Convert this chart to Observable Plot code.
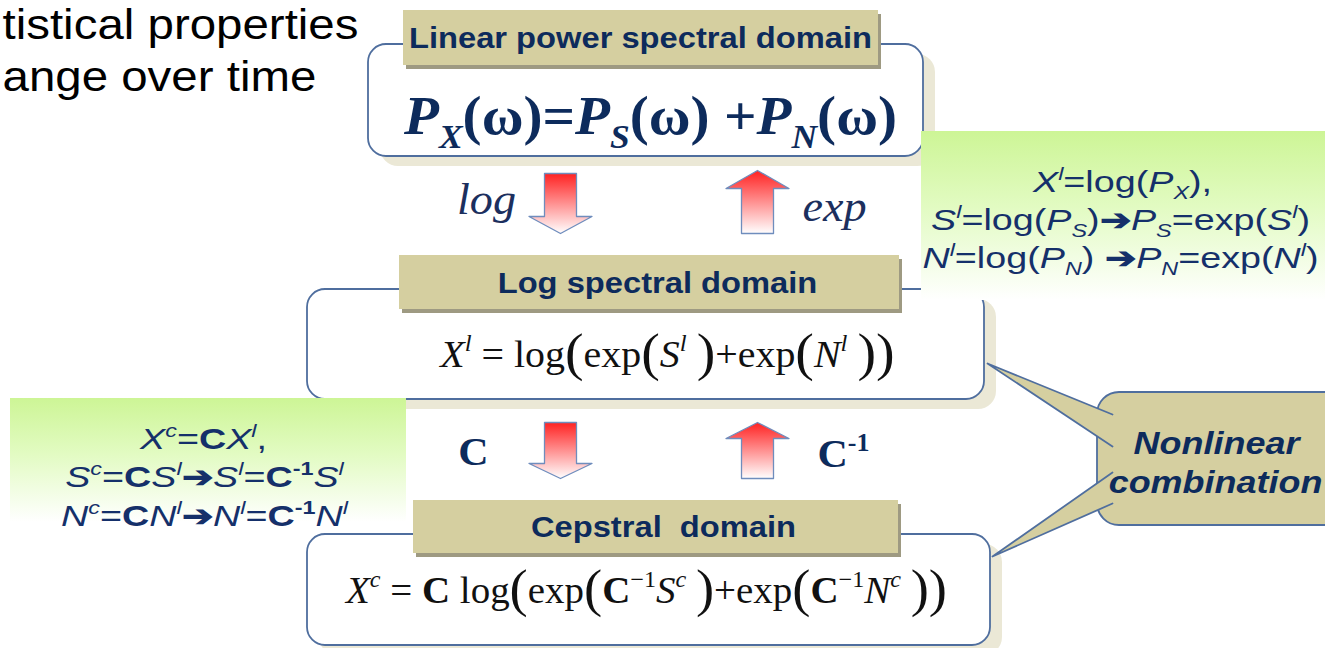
<!DOCTYPE html>
<html>
<head>
<meta charset="utf-8">
<script src="https://cdn.jsdelivr.net/npm/d3@7"></script>
<script src="https://cdn.jsdelivr.net/npm/@observablehq/plot@0.6"></script>
<style>
  html, body { margin: 0; padding: 0; background: #fff; overflow: hidden; }
  #chart svg { display: block; }
</style>
</head>
<body>
<div id="chart"></div>
<script>
// ---------- content (texts) ----------
const headerLines = ["tistical properties", "ange over time"];
const domainTitles = ["Linear power spectral domain", "Log spectral domain", "Cepstral  domain"];
// markup: *..* italic, #..# bold, _{..} subscript, ^{..} superscript, %c enlarged char
const domainFormulas = [
  "*P*_{*X*}(ω)=*P*_{*S*}(ω) +*P*_{*N*}(ω)",
  "*X*^{*l*} = log%(exp%(*S*^{*l*} %)+exp%(*N*^{*l*} %)%)",
  "*X*^{*c*} = #C# log%(exp%(#C#^{−1}*S*^{*c*} %)+exp%(#C#^{−1}*N*^{*c*} %)%)"
];
const transformLabels = ["log", "exp", "C", "C^{-1}"];
const logRelations = [
  "*X*^{*l*}=log(*P*_{*X*}),",
  "*S*^{*l*}=log(*P*_{*S*})#➔#*P*_{*S*}=exp(*S*^{*l*})",
  "*N*^{*l*}=log(*P*_{*N*}) #➔#*P*_{*N*}=exp(*N*^{*l*})"
];
const cepRelations = [
  "*X*^{*c*}=#C#*X*^{*l*},",
  "*S*^{*c*}=#C#*S*^{*l*}#➔#*S*^{*l*}=#C#^{#-1#}*S*^{*l*}",
  "*N*^{*c*}=#C#*N*^{*l*}#➔#*N*^{*l*}=#C#^{#-1#}*N*^{*l*}"
];
const calloutLines = ["Nonlinear", "combination"];

// ---------- layout (pixel space of the diagram) ----------
const boxX1 = [368, 307, 307], boxX2 = [923, 984, 990];
const boxY1 = [44, 289, 534], boxY2 = [156, 399, 645];
const tabX1 = [403, 399, 413], tabX2 = [878, 899, 898];
const tabY1 = [10, 255, 500], tabY2 = [65, 309, 553];
const titleX = [640, 657, 663], titleY = [38, 283, 527];
const formulaX = [650, 667, 646], formulaY = [116, 354, 590];
const greenX1 = [921, 10], greenX2 = [1325, 406], greenY1 = [131, 398], greenY2 = [300, 522];
const logRelX = [1122, 1120, 1120], logRelY = [182, 220, 258];
const cepRelX = [203, 204, 204], cepRelY = [439, 477, 516];
const labelX = [486, 834, 473, 843], labelY = [199, 206, 452, 454];
const headerX = [2, 2], headerY = [25, 77];
// arrows: centre x, start y (flat end), head base y, tip y
const arrowCx = [560, 757, 560, 757];
const arrowFlat = [173, 233, 422, 478];
const arrowHeadBase = [216, 188, 463, 438];
const arrowTip = [233, 170, 478, 422];
const arrowShaft = 32, arrowHead = 63;
const calloutX1 = 1097, calloutX2 = 1350, calloutY1 = 392, calloutY2 = 525;
const pointerA = [[1112, 414], [987, 363], [1112, 446]];
const pointerB = [[1112, 472], [992, 556], [1112, 503]];
const calloutTextX = [1216, 1215], calloutTextY = [444, 483];

// ---------- colours ----------
const navy = "#0d2b5c";
const boxStroke = "#4f6e9e";
const khaki = "#d5cfa0";

// ---------- derived tables ----------
const boxes = boxX1.map((_, i) => ({x1: boxX1[i], x2: boxX2[i], y1: boxY1[i], y2: boxY2[i]}));
const tabs = tabX1.map((_, i) => ({x1: tabX1[i], x2: tabX2[i], y1: tabY1[i], y2: tabY2[i]}));
const greens = greenX1.map((_, i) => ({x1: greenX1[i], x2: greenX2[i], y1: greenY1[i], y2: greenY2[i]}));
const titles = domainTitles.map((t, i) => ({text: t, x: titleX[i], y: titleY[i]}));
const formulas = domainFormulas.map((t, i) => ({text: t, x: formulaX[i], y: formulaY[i]}));
const labels = transformLabels.map((t, i) => ({text: t, x: labelX[i], y: labelY[i]}));
const rels = logRelations.map((t, i) => ({text: t, x: logRelX[i], y: logRelY[i]}))
  .concat(cepRelations.map((t, i) => ({text: t, x: cepRelX[i], y: cepRelY[i]})));
const callout = calloutLines.map((t, i) => ({text: t, x: calloutTextX[i], y: calloutTextY[i]}));
const header = headerLines.map((t, i) => ({text: t, x: headerX[i], y: headerY[i]}));

const arrowPts = [];
arrowCx.forEach((cx, i) => {
  const s = arrowShaft / 2, h = arrowHead / 2;
  const pts = [[cx - s, arrowFlat[i]], [cx - s, arrowHeadBase[i]], [cx - h, arrowHeadBase[i]],
    [cx, arrowTip[i]], [cx + h, arrowHeadBase[i]], [cx + s, arrowHeadBase[i]], [cx + s, arrowFlat[i]], [cx - s, arrowFlat[i]]];
  pts.forEach(([x, y]) => arrowPts.push({id: i, x, y}));
});
const pointerPts = [];
[pointerA, pointerB].forEach((p, i) => p.forEach(([x, y]) => pointerPts.push({id: i, x, y})));

const plot = Plot.plot({
  width: 1325, height: 648, margin: 0,
  x: {domain: [0, 1325], range: [0, 1325], axis: null},
  y: {domain: [0, 648], range: [0, 648], axis: null},
  style: {background: "white", overflow: "hidden"},
  marks: [
    Plot.rect(boxes, {x1: d => d.x1 + 12, x2: d => d.x2 + 12, y1: d => d.y1 + 10, y2: d => d.y2 + 10, rx: 18, fill: "#ebe8d6"}),
    Plot.rect(boxes, {x1: "x1", x2: "x2", y1: "y1", y2: "y2", rx: 18, fill: "white", stroke: boxStroke, strokeWidth: 1.8}),
    Plot.rect(greens, {x1: "x1", x2: "x2", y1: "y1", y2: "y2", fill: "url(#greenGrad)"}),
    Plot.rect(tabs, {x1: d => d.x1 + 3, x2: d => d.x2 + 3, y1: d => d.y1 + 4, y2: d => d.y2 + 4, fill: "#9e9a82"}),
    Plot.rect(tabs, {x1: "x1", x2: "x2", y1: "y1", y2: "y2", fill: khaki}),
    Plot.line(arrowPts, {x: "x", y: "y", z: "id", fill: "url(#redGrad)", stroke: "#6f8dbd", strokeWidth: 1.3, curve: "linear"}),
    Plot.rect([0], {x1: calloutX1, x2: calloutX2, y1: calloutY1, y2: calloutY2, rx: 22, fill: khaki, stroke: boxStroke, strokeWidth: 1.8}),
    Plot.line(pointerPts, {x: "x", y: "y", z: "id", fill: khaki, stroke: boxStroke, strokeWidth: 1.8, curve: "linear"}),
    Plot.text(header, {x: "x", y: "y", text: "text", textAnchor: "start", fontFamily: "Liberation Sans, Arial, sans-serif", fontSize: 42, fill: "#000"}),
    Plot.text(titles, {x: "x", y: "y", text: "text", fontFamily: "Liberation Sans, Arial, sans-serif", fontSize: 30, fontWeight: "bold", fill: navy}),
    Plot.text(formulas.slice(0, 1), {x: "x", y: "y", text: "text", fontFamily: "Liberation Serif, Times New Roman, serif", fontSize: 55, fontWeight: "bold", fill: navy}),
    Plot.text(formulas.slice(1), {x: "x", y: "y", text: "text", fontFamily: "Liberation Serif, Times New Roman, serif", fontSize: 38, fill: "#111"}),
    Plot.text(labels.slice(0, 2), {x: "x", y: "y", text: "text", fontFamily: "Liberation Serif, Times New Roman, serif", fontSize: 44, fontStyle: "italic", fill: "#1c2f5e"}),
    Plot.text(labels.slice(2), {x: "x", y: "y", text: "text", fontFamily: "Liberation Serif, Times New Roman, serif", fontSize: 40, fontWeight: "bold", fill: navy}),
    Plot.text(rels, {x: "x", y: "y", text: "text", fontFamily: "Liberation Sans, Arial, sans-serif", fontSize: 29, fill: "#15306a"}),
    Plot.text(callout, {x: "x", y: "y", text: "text", fontFamily: "Liberation Sans, Arial, sans-serif", fontSize: 31, fontWeight: "bold", fontStyle: "italic", fill: navy})
  ]
});

document.getElementById("chart").appendChild(plot);

// gradients
const svg = d3.select(plot);
const defs = svg.insert("defs", ":first-child");
const g1 = defs.append("linearGradient").attr("id", "greenGrad").attr("x1", 0).attr("y1", 0).attr("x2", 0).attr("y2", 1);
g1.append("stop").attr("offset", "0%").attr("stop-color", "#cdf596");
g1.append("stop").attr("offset", "45%").attr("stop-color", "#e2fbc2");
g1.append("stop").attr("offset", "100%").attr("stop-color", "#ffffff");
const g2 = defs.append("linearGradient").attr("id", "redGrad").attr("x1", 0).attr("y1", 0).attr("x2", 0).attr("y2", 1);
g2.append("stop").attr("offset", "0%").attr("stop-color", "#ff2222");
g2.append("stop").attr("offset", "100%").attr("stop-color", "#ffffff");

// horizontal stretch of the slide artwork, per text group
const stretchOf = new Map();
headerLines.forEach(t => stretchOf.set(t, 1.13));
domainTitles.forEach(t => stretchOf.set(t, 1.09));
stretchOf.set(domainFormulas[0], 1.04);
stretchOf.set(domainFormulas[1], 1.05);
stretchOf.set(domainFormulas[2], 1.025);
transformLabels.forEach(t => stretchOf.set(t, 1.05));
logRelations.concat(cepRelations).forEach(t => stretchOf.set(t, 1.3));
calloutLines.forEach(t => stretchOf.set(t, 1.16));

// rich-text markup -> tspans
function parseMarkup(str, style, out) {
  let i = 0, buf = "";
  const flush = () => { if (buf) { out.push({...style, text: buf}); buf = ""; } };
  while (i < str.length) {
    const ch = str[i];
    if (ch === "*") { flush(); style = {...style, italic: !style.italic}; i++; }
    else if (ch === "#") { flush(); style = {...style, bold: !style.bold}; i++; }
    else if ((ch === "_" || ch === "^") && str[i + 1] === "{") {
      flush();
      let depth = 0, j = i + 1;
      for (; j < str.length; j++) { if (str[j] === "{") depth++; else if (str[j] === "}") { depth--; if (depth === 0) break; } }
      const inner = str.slice(i + 2, j);
      const sub = ch === "_";
      parseMarkup(inner, {...style, size: style.size * 0.62, offset: style.offset + (sub ? 0.26 : -0.4) * style.size}, out);
      i = j + 1;
    } else if (ch === "%") {
      flush();
      out.push({...style, text: str[i + 1], size: style.size * 1.4, offset: style.offset + 0.1 * style.size});
      i += 2;
    } else { buf += ch; i++; }
  }
  flush();
  return out;
}
const NS = "http://www.w3.org/2000/svg";
plot.querySelectorAll("text").forEach(t => {
  const raw = t.textContent;
  const cs = getComputedStyle(t);
  const base = parseFloat(cs.fontSize);
  const segs = parseMarkup(raw, {italic: cs.fontStyle === "italic", bold: +cs.fontWeight >= 600 || cs.fontWeight === "bold", size: 1, offset: 0}, []);
  t.textContent = "";
  let cur = 0;
  segs.forEach(s => {
    const ts = document.createElementNS(NS, "tspan");
    ts.textContent = s.text;
    ts.setAttribute("font-size", (s.size * base).toFixed(2));
    if (s.offset !== cur) ts.setAttribute("dy", ((s.offset - cur) * base).toFixed(2));
    cur = s.offset;
    ts.setAttribute("font-style", s.italic ? "italic" : "normal");
    ts.setAttribute("font-weight", s.bold ? "bold" : "normal");
    t.appendChild(ts);
  });
  const s = stretchOf.get(raw);
  if (s && s !== 1) {
    const tr = t.getAttribute("transform");
    if (tr) {
      t.setAttribute("transform", `${tr} scale(${s},1)`);
    } else {
      const x = parseFloat(t.getAttribute("x") || 0);
      t.setAttribute("transform", `translate(${x},0) scale(${s},1) translate(${-x},0)`);
    }
  }
});
</script>
</body>
</html>
